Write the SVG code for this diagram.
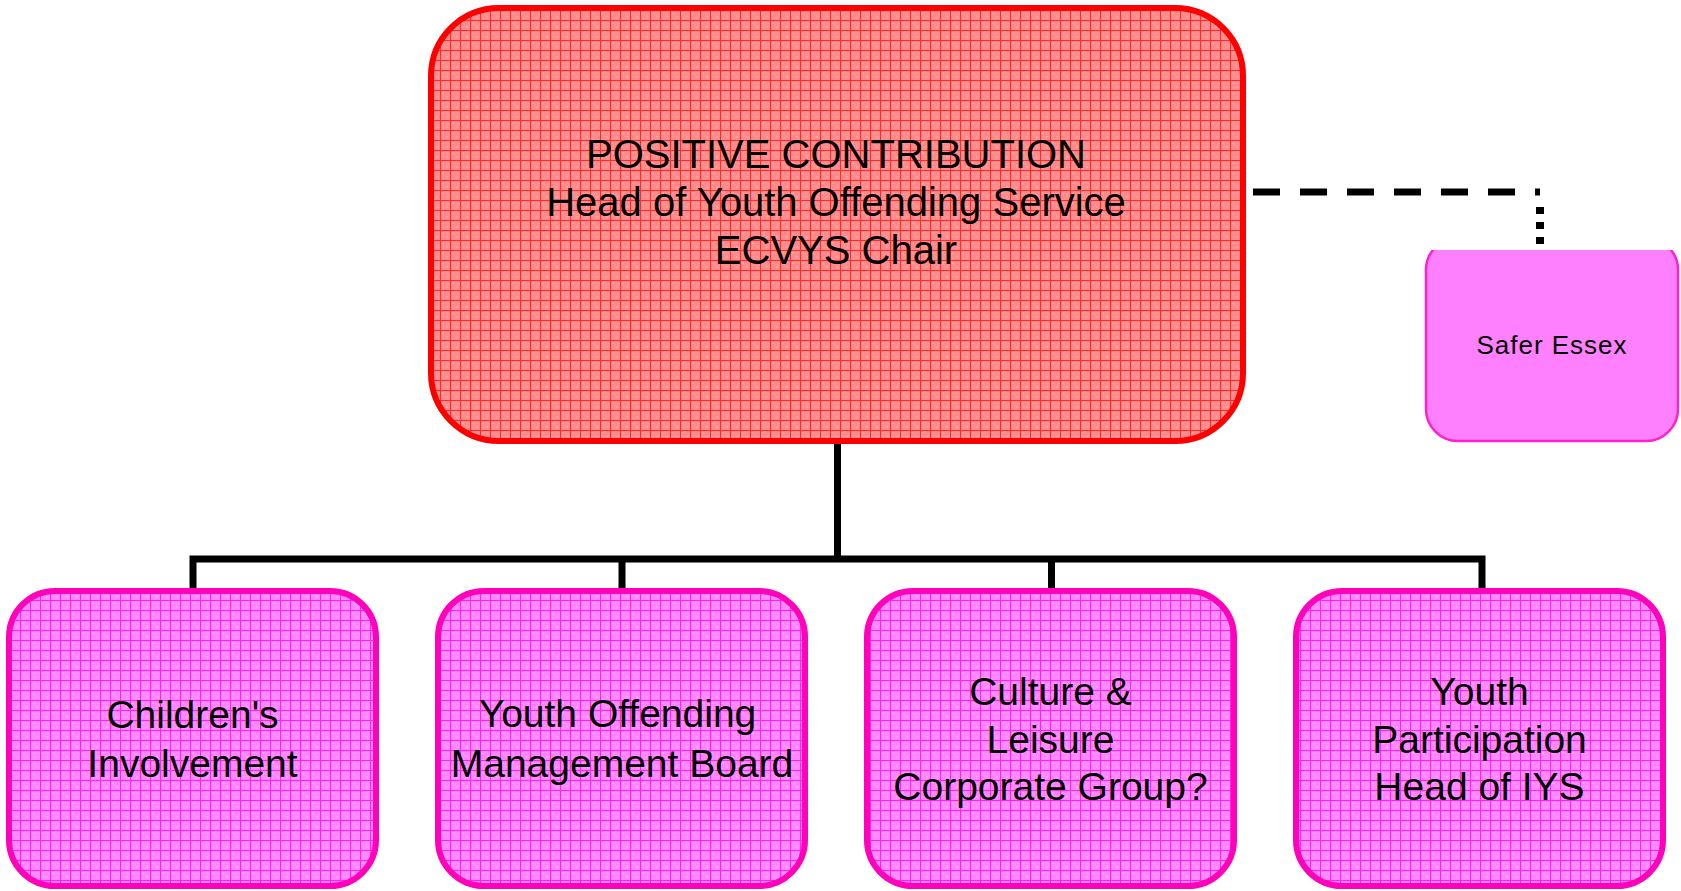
<svg xmlns="http://www.w3.org/2000/svg" width="1681" height="891" viewBox="0 0 1681 891">
<defs>
<pattern id="gridRed" patternUnits="userSpaceOnUse" width="10" height="10">
<rect width="10" height="10" fill="#ff8c8c"/>
<rect x="2" y="2" width="2" height="2" fill="#ff9c9c"/>
<rect x="6" y="6" width="2" height="2" fill="#ff9c9c"/>
<rect x="0" y="0" width="10" height="1" fill="#ff2a2a"/>
<rect x="0" y="0" width="1" height="10" fill="#ff2a2a"/>
</pattern>
<pattern id="gridPink" patternUnits="userSpaceOnUse" width="10" height="10">
<rect width="10" height="10" fill="#ff88ff"/>
<rect x="2" y="2" width="2" height="2" fill="#ff9cff"/>
<rect x="6" y="6" width="2" height="2" fill="#ff9cff"/>
<rect x="0" y="0" width="10" height="1" fill="#ff22ee"/>
<rect x="0" y="0" width="1" height="10" fill="#ff22ee"/>
</pattern>
<clipPath id="clipSafer"><rect x="1400" y="250" width="281" height="220"/></clipPath>
</defs>
<style>
.lbl{font-family:"Liberation Sans",Arial,sans-serif;fill:#000;text-anchor:middle}
.top{font-size:40px}
.sub{font-size:39px}
.child{fill:url(#gridPink);stroke:#ff00bb;stroke-width:6}
.conn{fill:none;stroke:#000;stroke-width:7}
</style>
<g id="connectors">
<path class="conn" d="M837.5 444 V559 M193 559 H1482 M193 555.5 V589 M622 555.5 V589 M1051.5 555.5 V589 M1482 555.5 V589"/>
<path d="M1253 192 H1540" fill="none" stroke="#000" stroke-width="7" stroke-dasharray="27 20"/>
<path d="M1540 207 V248" fill="none" stroke="#000" stroke-width="8" stroke-dasharray="7 8"/>
</g>
<g id="node-top">
<rect x="431" y="8" width="812" height="433" rx="68" ry="68" fill="url(#gridRed)" stroke="#ff0000" stroke-width="6"/>
<text class="lbl top" x="836" y="168">POSITIVE CONTRIBUTION</text>
<text class="lbl top" x="836" y="216">Head of Youth Offending Service</text>
<text class="lbl top" x="836" y="264">ECVYS Chair</text>
</g>
<g id="node-safer">
<rect x="1426" y="238" width="252" height="203" rx="32" ry="32" fill="#ff80ff" stroke="#ff22cc" stroke-width="2.5" clip-path="url(#clipSafer)"/>
<text class="lbl" x="1552" y="354" font-size="26" letter-spacing="1" fill="#221122">Safer Essex</text>
</g>
<g id="node-children">
<rect class="child" x="9" y="591" width="367" height="295" rx="46" ry="46"/>
<text class="lbl sub" x="192.5" y="728">Children's</text>
<text class="lbl sub" x="192.5" y="777">Involvement</text>
</g>
<g id="node-yomb">
<rect class="child" x="438" y="591" width="367" height="295" rx="46" ry="46"/>
<text class="lbl sub" x="617.5" y="727">Youth Offending</text>
<text class="lbl sub" x="622" y="777">Management Board</text>
</g>
<g id="node-culture">
<rect class="child" x="867" y="591" width="367" height="295" rx="46" ry="46"/>
<text class="lbl sub" x="1050.5" y="705">Culture &amp;</text>
<text class="lbl sub" x="1050.5" y="752.5">Leisure</text>
<text class="lbl sub" x="1050.5" y="800">Corporate Group?</text>
</g>
<g id="node-youth">
<rect class="child" x="1296" y="591" width="367" height="295" rx="46" ry="46"/>
<text class="lbl sub" x="1479.5" y="705">Youth</text>
<text class="lbl sub" x="1479.5" y="752.5">Participation</text>
<text class="lbl sub" x="1479.5" y="800">Head of IYS</text>
</g>
</svg>
